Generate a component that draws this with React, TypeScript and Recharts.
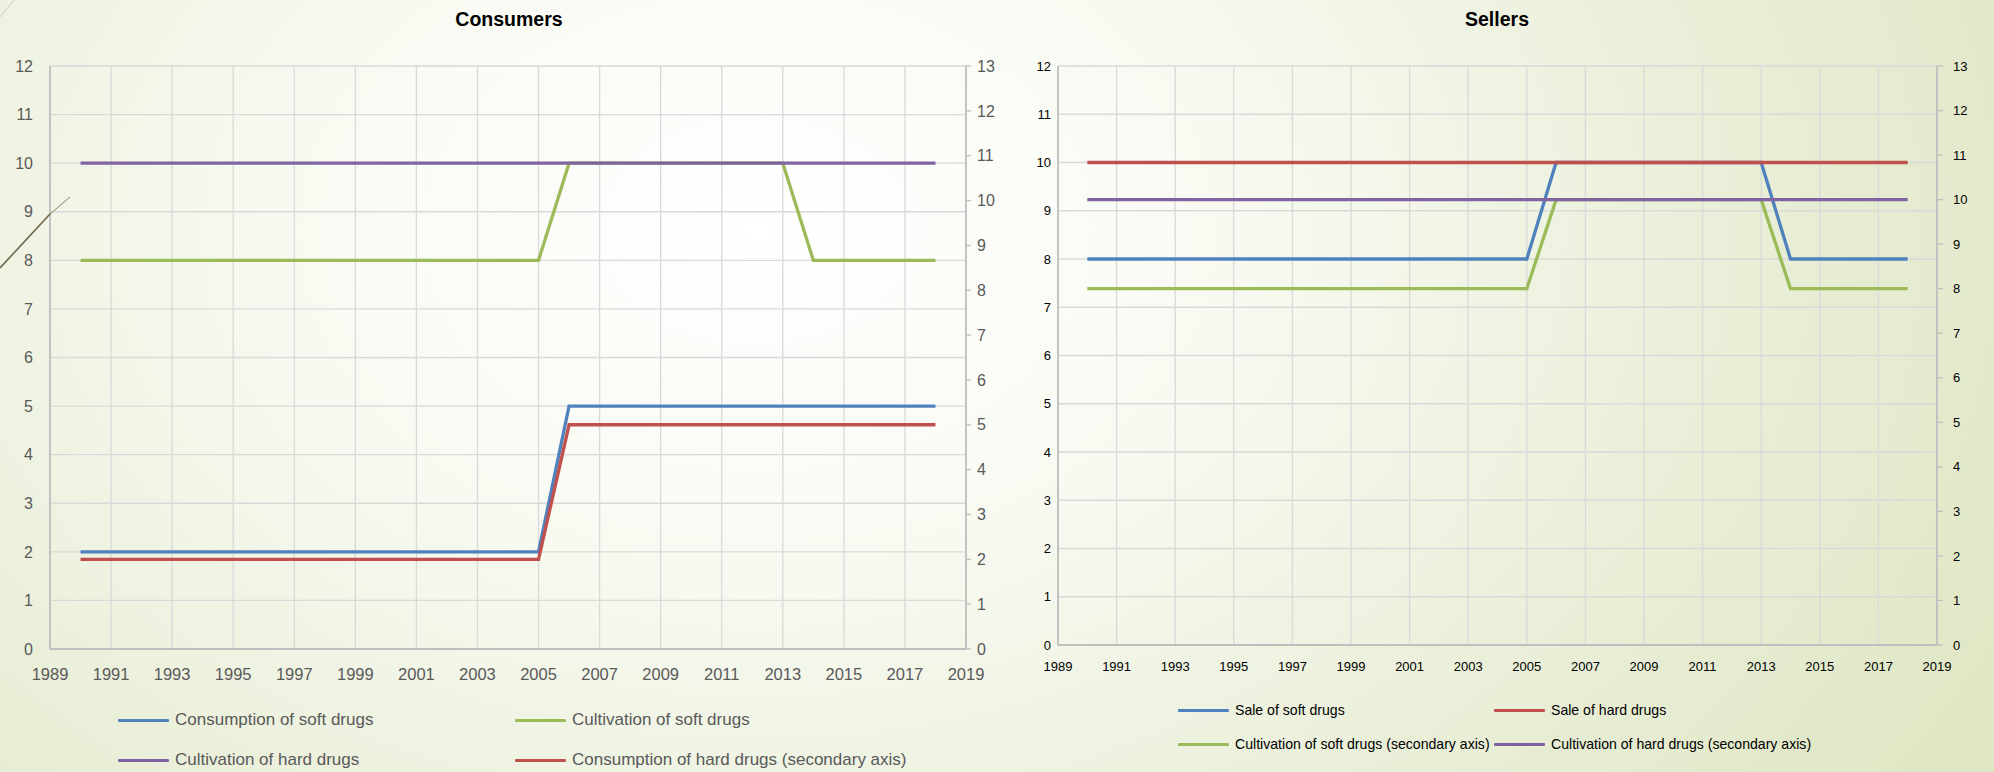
import React from 'react';
import { LineChart, Line, XAxis, YAxis, CartesianGrid } from 'recharts';

// ---------- data ----------
const years = [1990, 1991, 1992, 1993, 1994, 1995, 1996, 1997, 1998, 1999, 2000, 2001, 2002, 2003, 2004, 2005, 2006, 2007, 2008, 2009, 2010, 2011, 2012, 2013, 2014, 2015, 2016, 2017, 2018];
const yearTicks = [1989, 1991, 1993, 1995, 1997, 1999, 2001, 2003, 2005, 2007, 2009, 2011, 2013, 2015, 2017, 2019];
const primaryTicks = [0, 1, 2, 3, 4, 5, 6, 7, 8, 9, 10, 11, 12];
const secondaryTicks = [0, 1, 2, 3, 4, 5, 6, 7, 8, 9, 10, 11, 12, 13];

// Consumers chart
const consumptionSoft = [2, 2, 2, 2, 2, 2, 2, 2, 2, 2, 2, 2, 2, 2, 2, 2, 5, 5, 5, 5, 5, 5, 5, 5, 5, 5, 5, 5, 5];
const cultivationSoftC = [8, 8, 8, 8, 8, 8, 8, 8, 8, 8, 8, 8, 8, 8, 8, 8, 10, 10, 10, 10, 10, 10, 10, 10, 8, 8, 8, 8, 8];
const cultivationHardC = [10, 10, 10, 10, 10, 10, 10, 10, 10, 10, 10, 10, 10, 10, 10, 10, 10, 10, 10, 10, 10, 10, 10, 10, 10, 10, 10, 10, 10];
const consumptionHard = [2, 2, 2, 2, 2, 2, 2, 2, 2, 2, 2, 2, 2, 2, 2, 2, 5, 5, 5, 5, 5, 5, 5, 5, 5, 5, 5, 5, 5];

// Sellers chart
const saleSoft = [8, 8, 8, 8, 8, 8, 8, 8, 8, 8, 8, 8, 8, 8, 8, 8, 10, 10, 10, 10, 10, 10, 10, 10, 8, 8, 8, 8, 8];
const saleHard = [10, 10, 10, 10, 10, 10, 10, 10, 10, 10, 10, 10, 10, 10, 10, 10, 10, 10, 10, 10, 10, 10, 10, 10, 10, 10, 10, 10, 10];
const cultivationSoftS = [8, 8, 8, 8, 8, 8, 8, 8, 8, 8, 8, 8, 8, 8, 8, 8, 10, 10, 10, 10, 10, 10, 10, 10, 8, 8, 8, 8, 8];
const cultivationHardS = [10, 10, 10, 10, 10, 10, 10, 10, 10, 10, 10, 10, 10, 10, 10, 10, 10, 10, 10, 10, 10, 10, 10, 10, 10, 10, 10, 10, 10];

const BLUE = '#4F81BD';
const RED = '#C0504D';
const GREEN = '#9BBB59';
const PURPLE = '#8064A2';

type Series = { key: string; name: string; color: string; values: number[]; axis: 'left' | 'right' };

const consumerSeries: Series[] = [
  { key: 'cs', name: 'Consumption of soft drugs', color: BLUE, values: consumptionSoft, axis: 'left' },
  { key: 'cus', name: 'Cultivation of soft drugs', color: GREEN, values: cultivationSoftC, axis: 'left' },
  { key: 'cuh', name: 'Cultivation of hard drugs', color: PURPLE, values: cultivationHardC, axis: 'left' },
  { key: 'ch', name: 'Consumption of hard drugs (secondary axis)', color: RED, values: consumptionHard, axis: 'right' },
];

const sellerSeries: Series[] = [
  { key: 'ss', name: 'Sale of soft drugs', color: BLUE, values: saleSoft, axis: 'left' },
  { key: 'sh', name: 'Sale of hard drugs', color: RED, values: saleHard, axis: 'left' },
  { key: 'cus', name: 'Cultivation of soft drugs (secondary axis)', color: GREEN, values: cultivationSoftS, axis: 'right' },
  { key: 'cuh', name: 'Cultivation of hard drugs (secondary axis)', color: PURPLE, values: cultivationHardS, axis: 'right' },
];

const buildRows = (series: Series[]) =>
  years.map((year, i) => {
    const row: Record<string, number> = { year };
    series.forEach((s) => {
      row[s.key] = s.values[i];
    });
    return row;
  });

const FONT = '"Liberation Sans", Arial, sans-serif';
const GRID = '#D9D9D9';
const AXIS = '#BFBFBF';

type LegendPos = { col: number[]; row: number[]; lineW: number; gap: number; fontSize: number; color: string };

function Legend({ series, pos, left }: { series: Series[]; pos: LegendPos; left: number }) {
  return (
    <>
      {series.map((s, i) => {
        const cx = pos.col[i % 2];
        const cy = pos.row[Math.floor(i / 2)];
        return (
          <div
            key={s.key}
            style={{
              position: 'absolute',
              left: left + cx,
              top: cy - 12,
              height: 24,
              display: 'flex',
              alignItems: 'center',
              whiteSpace: 'nowrap',
              fontFamily: FONT,
              fontSize: pos.fontSize,
              color: pos.color,
            }}
          >
            <div style={{ width: pos.lineW, height: 3, background: s.color, marginRight: pos.gap, borderRadius: 1 }} />
            <span>{s.name}</span>
          </div>
        );
      })}
    </>
  );
}

function Chart({
  series,
  left,
  width,
  bottomMargin,
  leftAxisW,
  rightAxisW,
  tickFont,
  xTickFont,
  tickColor,
  leftTickMargin,
  xTickMargin,
  rightTickSize,
  rightTickMargin,
}: {
  series: Series[];
  left: number;
  width: number;
  bottomMargin: number;
  leftAxisW: number;
  rightAxisW: number;
  tickFont: number;
  xTickFont: number;
  tickColor: string;
  leftTickMargin: number;
  xTickMargin: number;
  rightTickSize: number;
  rightTickMargin: number;
}) {
  const data = buildRows(series);
  return (
    <div style={{ position: 'absolute', left, top: 0 }}>
      <LineChart width={width} height={772} data={data} margin={{ top: 66, right: 0, bottom: bottomMargin, left: 0 }}>
        <CartesianGrid yAxisId="left" stroke={GRID} strokeWidth={1.3} />
        <XAxis
          dataKey="year"
          type="number"
          domain={[1989, 2019]}
          ticks={yearTicks}
          interval={0}
          tickLine={false}
          axisLine={{ stroke: AXIS, strokeWidth: 1.8 }}
          tickMargin={xTickMargin}
          tick={{ fill: tickColor, fontSize: xTickFont, fontFamily: FONT }}
        />
        <YAxis
          yAxisId="left"
          domain={[0, 12]}
          ticks={primaryTicks}
          interval={0}
          width={leftAxisW}
          tickLine={false}
          axisLine={{ stroke: AXIS, strokeWidth: 1.8 }}
          tickMargin={leftTickMargin}
          tick={{ fill: tickColor, fontSize: tickFont, fontFamily: FONT }}
        />
        <YAxis
          yAxisId="right"
          orientation="right"
          domain={[0, 13]}
          ticks={secondaryTicks}
          interval={0}
          width={rightAxisW}
          tickSize={rightTickSize}
          tickLine={{ stroke: AXIS, strokeWidth: 1.3 }}
          axisLine={{ stroke: AXIS, strokeWidth: 1.8 }}
          tickMargin={rightTickMargin}
          tick={{ fill: tickColor, fontSize: tickFont, fontFamily: FONT, textAnchor: 'start' }}
        />
        {series.map((s) => (
          <Line
            key={s.key}
            yAxisId={s.axis}
            dataKey={s.key}
            name={s.name}
            type="linear"
            stroke={s.color}
            strokeWidth={3.3}
            dot={false}
            activeDot={false}
            isAnimationActive={false}
          />
        ))}
      </LineChart>
    </div>
  );
}

export default function App() {
  return (
    <div
      style={{
        position: 'absolute',
        left: 0,
        top: 0,
        width: 1994,
        height: 772,
        overflow: 'hidden',
        background:
          'radial-gradient(ellipse 1400px 1000px at 38% 30%, #FFFFFF 0%, #F8FAF2 33%, #EAEFD9 68%, #DFE7C4 100%)',
      }}
    >
      <svg width={1994} height={772} style={{ position: 'absolute', left: 0, top: 0 }}>
        <line x1={0} y1={17} x2={14} y2={0} stroke="#C9CDBA" strokeWidth={1} />
      </svg>

      <div
        style={{
          position: 'absolute',
          left: 309,
          width: 400,
          top: 8,
          textAlign: 'center',
          fontFamily: FONT,
          fontWeight: 'bold',
          fontSize: 19.5,
          color: '#000',
        }}
      >
        Consumers
      </div>
      <div
        style={{
          position: 'absolute',
          left: 1297,
          width: 400,
          top: 8,
          textAlign: 'center',
          fontFamily: FONT,
          fontWeight: 'bold',
          fontSize: 19.5,
          color: '#000',
        }}
      >
        Sellers
      </div>

      <Chart
        series={consumerSeries}
        left={0}
        width={1000}
        bottomMargin={93}
        leftAxisW={50}
        rightAxisW={34}
        tickFont={16}
        xTickFont={16.5}
        tickColor="#595959"
        leftTickMargin={11}
        xTickMargin={13}
        rightTickSize={5}
        rightTickMargin={6}
      />
      <Chart
        series={sellerSeries}
        left={1000}
        width={994}
        bottomMargin={97}
        leftAxisW={58}
        rightAxisW={57}
        tickFont={13}
        xTickFont={13}
        tickColor="#000"
        leftTickMargin={1}
        xTickMargin={11}
        rightTickSize={6}
        rightTickMargin={10}
      />

      <Legend
        series={consumerSeries}
        left={0}
        pos={{ col: [118, 515], row: [720, 760], lineW: 51, gap: 6, fontSize: 17, color: '#595959' }}
      />
      <Legend
        series={sellerSeries}
        left={0}
        pos={{ col: [1178, 1494], row: [710, 744], lineW: 51, gap: 6, fontSize: 14.1, color: '#000' }}
      />

      <svg width={1994} height={772} style={{ position: 'absolute', left: 0, top: 0, pointerEvents: 'none' }}>
        <line x1={0} y1={268} x2={50} y2={214} stroke="#6E6446" strokeWidth={1.6} />
        <line x1={50} y1={214} x2={70} y2={197} stroke="#6E6446" strokeWidth={0.8} />
      </svg>
    </div>
  );
}
